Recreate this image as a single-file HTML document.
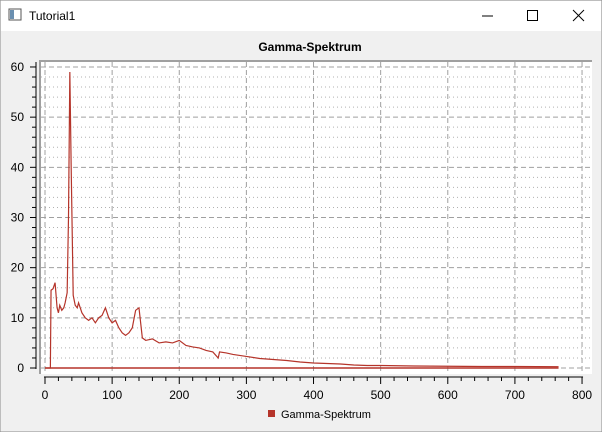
<!DOCTYPE html>
<html><head><meta charset="utf-8"><style>
body{margin:0;width:602px;height:432px;overflow:hidden;background:#f0f0f0;font-family:"Liberation Sans",sans-serif}
</style></head><body>
<svg width="602" height="432" xmlns="http://www.w3.org/2000/svg" style="position:absolute;left:0;top:0">
<rect x="0" y="0" width="602" height="432" fill="#f0f0f0" stroke="#8a8a8a"/>
<rect x="1" y="1" width="600" height="30" fill="#ffffff"/>
<g><rect x="9" y="9" width="12" height="11" fill="#fff" stroke="#555"/><rect x="10" y="10" width="4" height="9" fill="#6a8fb0"/></g>
<text x="29" y="20" font-size="12" fill="#000">Tutorial1</text>
<line x1="482" y1="16" x2="493" y2="16" stroke="#000"/>
<rect x="527.5" y="10.5" width="10" height="10" fill="none" stroke="#000"/>
<g stroke="#000"><line x1="573" y1="10" x2="584" y2="21"/><line x1="584" y1="10" x2="573" y2="21"/></g>
<text x="310" y="51" font-size="12" font-weight="bold" text-anchor="middle" fill="#000">Gamma-Spektrum</text>
<rect x="39" y="60" width="553" height="314" fill="#fff"/>
<line x1="39" y1="61" x2="592" y2="61" stroke="#a0a0a0" stroke-width="2"/>
<line x1="40" y1="60" x2="40" y2="374" stroke="#a0a0a0" stroke-width="2"/>
<g id="grid"></g>
<g id="axes"></g>
<g id="series"></g>
<rect x="268" y="410" width="7" height="7" fill="#b5342a"/>
<text x="281" y="418" font-size="11" fill="#000">Gamma-Spektrum</text>
</svg>
<script>
const xTicks=[0,100,200,300,400,500,600,700,800];
const yTicks=[0,10,20,30,40,50,60];
const channels=[0,8,9,12,15,18,20,22,25,28,30,33,35,37,39,42,45,48,50,55,60,65,70,75,80,85,90,95,100,105,110,115,120,125,130,135,140,145,150,160,170,180,190,200,210,220,230,240,250,258,260,270,280,300,320,340,360,380,400,420,440,460,480,500,550,600,650,700,765];
const counts=[0,0,15.5,15.8,17,12,11,12.5,11.5,12,13,15,30,59,40,14.5,12.5,12,13,11,10,9.5,10,9,10,10.5,12,10,9,9.5,8,7,6.5,7,8,11.5,12,6,5.5,5.8,5,5.2,5,5.5,4.5,4.2,4,3.5,3.2,2,3.2,3,2.7,2.3,1.9,1.7,1.5,1.2,1,0.9,0.8,0.6,0.5,0.5,0.4,0.35,0.3,0.3,0.25];
const NS="http://www.w3.org/2000/svg";
function X(v){return 45+v*0.6713;}
function Y(v){return 368-v*5.017;}
function mk(tag,attrs,parent){const e=document.createElementNS(NS,tag);for(const k in attrs)e.setAttribute(k,attrs[k]);parent.appendChild(e);return e;}
const grid=document.getElementById('grid'),axes=document.getElementById('axes'),series=document.getElementById('series');
for(let v=0;v<=60;v+=2){if(v%10===0)continue;
 const l=mk('line',{x1:41,x2:590,y1:Y(v),y2:Y(v),stroke:'#b0b0b0','stroke-dasharray':'1 3'},grid);
 
 }
yTicks.forEach(v=>{const l=mk('line',{x1:41,x2:590,y1:Y(v),y2:Y(v),stroke:'#a0a0a0','stroke-dasharray':'5 3'},grid);
 
 
 const t=mk('line',{x1:30,x2:36,y1:Y(v),y2:Y(v),stroke:'#000'},axes);
 
 
 const tx=mk('text',{x:24,y:Y(v)+4,'font-size':12,'text-anchor':'end',fill:'#000'},axes);tx.textContent=v;
 
 });
for(let v=0;v<=60;v+=2){if(v%10===0)continue;const t=mk('line',{x1:32,x2:36,y1:Y(v),y2:Y(v),stroke:'#000'},axes);
 
 }
mk('line',{x1:36,x2:36,y1:Y(61),y2:Y(0)+1,stroke:'#000'},axes);
xTicks.forEach(v=>{const l=mk('line',{x1:X(v),x2:X(v),y1:62,y2:372,stroke:'#a0a0a0','stroke-dasharray':'5 3'},grid);
 
 
 const t=mk('line',{x1:X(v),x2:X(v),y1:377,y2:384,stroke:'#000'},axes);
 
 
 const tx=mk('text',{x:X(v),y:399,'font-size':12,'text-anchor':'middle',fill:'#000'},axes);tx.textContent=v;
 
 });
for(let v=20;v<800;v+=20){if(v%100===0)continue;const t=mk('line',{x1:X(v),x2:X(v),y1:377,y2:381,stroke:'#000'},axes);
 
 }
mk('line',{x1:X(0)-1,x2:X(800)+1,y1:377,y2:377,stroke:'#000'},axes);
const base=mk('line',{x1:X(0),x2:X(channels[channels.length-1]),y1:Y(0),y2:Y(0),stroke:'#b5342a','stroke-width':1.5},series);


const p=mk('polyline',{points:channels.map((c,i)=>X(c)+','+Y(counts[i])).join(' '),fill:'none',stroke:'#b5342a','stroke-width':1.2},series);


</script>
</body></html>
